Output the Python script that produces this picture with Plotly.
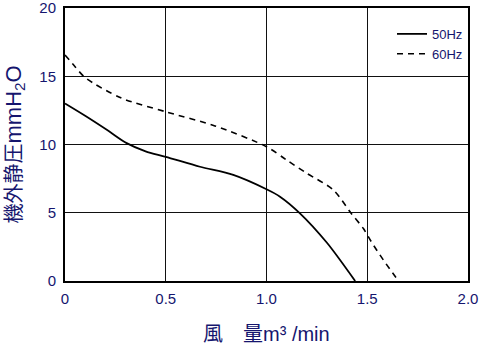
import plotly.graph_objects as go

# 50Hz curve
x50 = [0.0, 0.1, 0.215, 0.306, 0.4, 0.5, 0.67, 0.835, 1.0, 1.067, 1.166, 1.3, 1.44]
y50 = [13.0, 12.1, 11.0, 10.1, 9.5, 9.1, 8.37, 7.77, 6.72, 6.18, 4.96, 2.8, 0.0]

# 60Hz curve
x60 = [0.0, 0.05, 0.1, 0.28, 0.5, 0.744, 1.0, 1.1, 1.2, 1.332, 1.42, 1.48, 1.52, 1.58, 1.655]
y60 = [16.56, 15.7, 14.9, 13.4, 12.4, 11.36, 9.84, 8.86, 7.89, 6.67, 4.96, 3.86, 2.88, 1.54, 0.0]

x_ticks = [0, 0.5, 1.0, 1.5, 2.0]
x_tick_labels = ["0", "0.5", "1.0", "1.5", "2.0"]
y_ticks = [0, 5, 10, 15, 20]
y_tick_labels = ["0", "5", "10", "15", "20"]

x_title = "風　量m³ /min"
y_title = "機外静圧<span style=\"font-size:22px\">mmH<sub>2</sub>O</span>"

NAVY = "#15156e"
FONT = "Liberation Sans, Arial, Noto Sans CJK JP, sans-serif"

fig = go.Figure()
fig.add_trace(go.Scatter(x=x50, y=y50, mode="lines", name="50Hz",
                         line=dict(color="black", width=1.8, shape="spline", smoothing=0.8)))
fig.add_trace(go.Scatter(x=x60, y=y60, mode="lines", name="60Hz",
                         line=dict(color="black", width=1.6, dash="6px,5px", shape="spline", smoothing=0.8)))

fig.update_layout(
    width=480, height=345,
    margin=dict(l=65, r=12, t=8, b=64, autoexpand=False),
    paper_bgcolor="white", plot_bgcolor="white",
    font=dict(family=FONT, color=NAVY, size=15),
    showlegend=True,
    legend=dict(x=1, y=0.96, xanchor="right", yanchor="top",
                bgcolor="rgba(0,0,0,0)", borderwidth=0,
                font=dict(size=13, color=NAVY, family=FONT),
                tracegroupgap=0, itemwidth=30),
    xaxis=dict(range=[0, 2], tickvals=x_ticks, ticktext=x_tick_labels,
               showgrid=True, gridcolor="#111", gridwidth=1,
               showline=True, linecolor="black", linewidth=2, mirror=True,
               ticks="", zeroline=False, ticklabelstandoff=3, automargin=False,
               ticklabeloverflow="allow",
               tickfont=dict(size=15, color=NAVY, family=FONT)),
    yaxis=dict(range=[0, 20], tickvals=y_ticks, ticktext=y_tick_labels,
               showgrid=True, gridcolor="#111", gridwidth=1,
               showline=True, linecolor="black", linewidth=2, mirror=True,
               ticks="", zeroline=False, ticklabelstandoff=4, automargin=False,
               ticklabeloverflow="allow",
               tickfont=dict(size=15, color=NAVY, family=FONT)),
    annotations=[
        dict(text=x_title, xref="paper", yref="paper", x=0.5, y=0,
             xanchor="center", yanchor="middle", yshift=-53, showarrow=False,
             font=dict(size=20, color=NAVY, family=FONT)),
        dict(text=y_title, xref="paper", yref="paper", x=0, y=0.5,
             xanchor="center", yanchor="middle", xshift=-51, textangle=-90, showarrow=False,
             font=dict(size=20, color=NAVY, family=FONT)),
    ],
)

fig.write_html("out.html", config={"displayModeBar": False},
               post_script="document.body.style.margin='0';document.body.style.padding='0';")
